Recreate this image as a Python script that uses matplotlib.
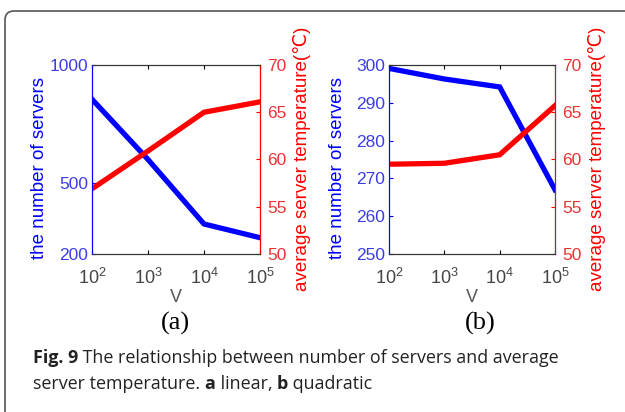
import matplotlib
matplotlib.use("Agg")
import matplotlib.pyplot as plt
from matplotlib.patches import FancyBboxPatch

plt.rcParams['font.family'] = ['Liberation Sans', 'DejaVu Sans']

V = [1e2, 1e3, 1e4, 1e5]
v_labels = ['10$^2$', '10$^3$', '10$^4$', '10$^5$']

# (a) linear
servers_a = [855, 600, 327, 269]
temp_a = [56.9, 60.9, 65.0, 66.1]
# (b) quadratic
servers_b = [299.1, 296.3, 294.2, 267.0]
temp_b = [59.5, 59.6, 60.5, 65.7]

left_ticks_a = [200, 500, 1000]
left_ticks_b = [250, 260, 270, 280, 290, 300]
right_ticks = [50, 55, 60, 65, 70]

BLUE = '#0000ff'
RED = '#ff0000'
BLUE_TXT = '#3c3ce6'
RED_TXT = '#ea3434'

plt.rcParams['mathtext.fontset'] = 'custom'
plt.rcParams['mathtext.rm'] = 'Liberation Sans'
plt.rcParams['mathtext.it'] = 'Liberation Sans'

fig = plt.figure(figsize=(6.25, 4.12), dpi=100)

# background frame
bg = fig.add_axes([0, 0, 1, 1])
bg.set_xlim(0, 625)
bg.set_ylim(412, 0)
bg.axis('off')
bg.add_patch(FancyBboxPatch((5, 11), 700, 500, boxstyle="round,pad=0,rounding_size=9",
                            fc='white', ec='#555555', lw=1.2))


def panel(rect, servers, temps, lticks, lim, tag, lab_x, rlab_x, tag_x):
    ax = fig.add_axes(rect)
    ax.set_xscale('log')
    ax.plot(V, servers, color=BLUE, lw=3.8, solid_joinstyle='miter')
    ax.set_xlim(1e2, 1e5)
    ax.set_ylim(*lim)
    ax.set_yticks(lticks)
    ax.set_xticks(V)
    ax.set_xticklabels(v_labels)
    ax.minorticks_off()
    ax.tick_params(axis='x', direction='in', top=True, labelsize=13,
                   labelcolor='#444444', length=3, pad=10)
    ax.tick_params(axis='y', direction='in', colors=BLUE, labelcolor=BLUE_TXT,
                   labelsize=12.5, length=3, pad=3)
    ax.spines['left'].set_color(BLUE)
    ax.spines['top'].set_color('#333333')
    ax.spines['bottom'].set_color('#333333')

    ax2 = ax.twinx()
    ax2.plot(V, temps, color=RED, lw=3.8, solid_joinstyle='miter')
    ax2.set_ylim(50, 70)
    ax2.set_yticks(right_ticks)
    ax2.minorticks_off()
    ax2.tick_params(axis='y', direction='in', colors=RED, labelcolor=RED_TXT,
                    labelsize=12.5, length=3, pad=5)
    ax2.spines['right'].set_color(RED)
    ax2.spines['left'].set_color(BLUE)
    ax2.spines['top'].set_color('#333333')
    ax2.spines['bottom'].set_color('#333333')

    fig.text(lab_x / 625, 1 - 168 / 412, 'the number of servers', rotation=90,
             color=BLUE, fontsize=13.5, ha='center', va='center')
    fig.text(rlab_x / 625, 1 - 159 / 412, 'average server temperature(℃)', rotation=90,
             color=RED, fontsize=13.5, ha='center', va='center')
    cx = rect[0] + rect[2] / 2
    fig.text(cx, 1 - 297 / 412, 'V', color='#555555', fontsize=13,
             ha='center', va='center')
    fig.text(tag_x / 625, 1 - 323 / 412, tag, family='Liberation Serif',
             fontsize=19, ha='center', va='center')


panel([92 / 625, 1 - 254 / 412, 168 / 625, 189 / 412], servers_a, temp_a,
      left_ticks_a, (200, 1000), '(a)', 40, 302, 175)
panel([389 / 625, 1 - 254 / 412, 166 / 625, 189 / 412], servers_b, temp_b,
      left_ticks_b, (250, 300), '(b)', 337, 597, 480)

# caption with bold pieces
renderer = fig.canvas.get_renderer()


def caption_line(y, pieces):
    x = 33
    for s, w in pieces:
        t = bg.text(x, y, s, fontsize=12.9, family='Open Sans', weight=w,
                    color='#222222', va='center', ha='left')
        bb = t.get_window_extent(renderer)
        x += bb.width


caption_line(358, [('Fig. 9', 'bold'),
                   (' The relationship between number of servers and average', 'normal')])
caption_line(384, [('server temperature. ', 'normal'), ('a', 'bold'),
                   (' linear, ', 'normal'), ('b', 'bold'), (' quadratic', 'normal')])

fig.savefig('out.png', dpi=100)
